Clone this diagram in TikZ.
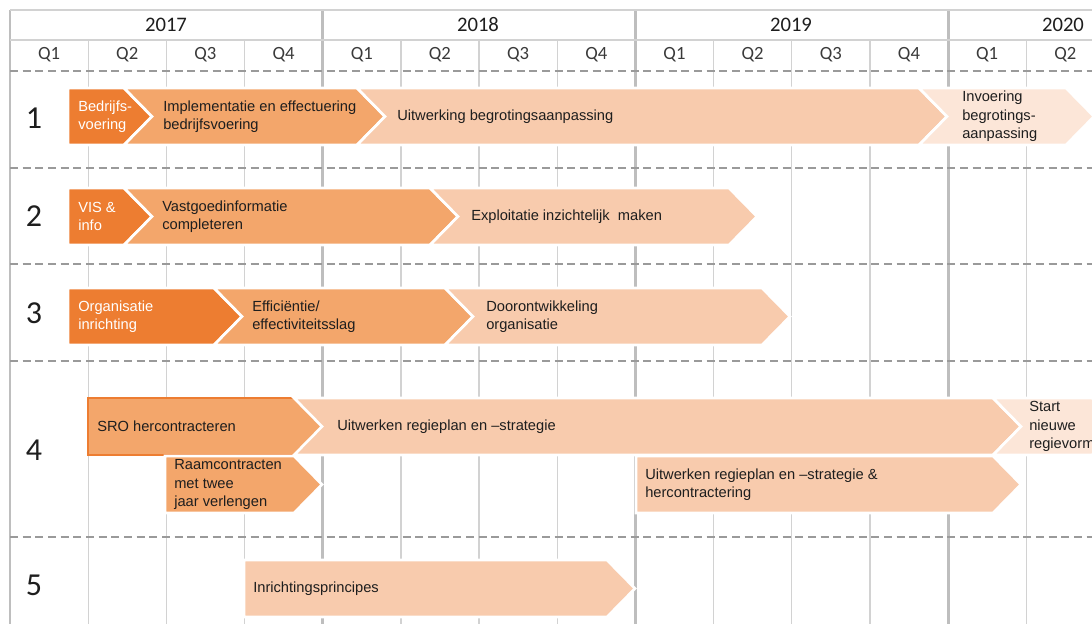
\documentclass[tikz,border=0pt]{standalone}
\usepackage{fontspec}
\setmainfont{Liberation Sans}
\newfontfamily\hdrfont{Carlito}
\usepackage{tikz}
\usepackage{xcolor}
\definecolor{rmdark}{HTML}{ED7D31}
\definecolor{rmmid}{HTML}{F3A66B}
\definecolor{rmlight}{HTML}{F8CBAD}
\definecolor{rmpale}{HTML}{FCE6D8}
\definecolor{rmgrid}{HTML}{D2D2D2}
\definecolor{rmyear}{HTML}{BEBEBE}
\definecolor{rmdash}{HTML}{9A9A9A}
\definecolor{rmtext}{HTML}{1E1E1E}
\definecolor{rmhead}{HTML}{3A3A3A}
\tikzset{
  phasedark/.style={fill=rmdark, draw=white, line width=2pt, line join=miter},
  phasemid/.style={fill=rmmid, draw=white, line width=2pt, line join=miter},
  phasesro/.style={fill=rmmid, draw=rmdark, line width=1.2pt, line join=miter},
  phaselight/.style={fill=rmlight, draw=white, line width=2pt, line join=miter},
  phasepale/.style={fill=rmpale, draw=white, line width=2pt, line join=miter},
  lbl/.style={anchor=west, align=left, inner sep=0pt, text=rmtext, font=\fontsize{11}{13.9}\selectfont},
  lblwhite/.style={lbl, text=white},
  qtxt/.style={text=rmhead, font=\hdrfont\fontsize{14}{16}\selectfont},
  yeartxt/.style={text=rmtext, font=\hdrfont\fontsize{15.5}{18}\selectfont},
  rowtxt/.style={text=rmtext, font=\hdrfont\fontsize{24}{28}\selectfont},
  qline/.style={draw=rmgrid, line width=1pt},
  yearline/.style={draw=rmyear, line width=2.2pt},
  hdrline/.style={draw=rmgrid, line width=1pt},
  rowsep/.style={draw=rmdash, line width=1.4pt, dash pattern=on 6pt off 3.5pt}
}
% chevron bar: [notch depth]{style}{x start}{x of tip}{y top}
\newcommand{\phase}[5][28]{%
  \path[#2] (#3,#5-1) -- (#4-28,#5-1) -- (#4,#5+27.5) -- (#4-28,#5+56)
    -- (#3,#5+56) -- (#3+#1,#5+27.5) -- cycle;}

\begin{document}
\begin{tikzpicture}[x=0.75pt, y=-0.75pt]
  \clip (0,0) rectangle (1092,624);
  \fill[white] (0,0) rectangle (1092,624);

  % grid
  \foreach \i in {1,2,3,5,6,7,9,10,11,13}
    \draw[qline] (10+78.17*\i,40) -- (10+78.17*\i,624);
  \foreach \i in {0,4,8,12}
    \draw[yearline] (10+78.17*\i,10) -- (10+78.17*\i,624);
  \draw[hdrline] (10,10) -- (1092,10);
  \draw[hdrline] (10,40) -- (1092,40);
  \foreach \y in {71,168,264,361,537}
    \draw[rowsep] (10,\y) -- (1092,\y);

  % header
  \node[yeartxt] (y2017) at (166,25) {2017};
  \node[yeartxt] (y2018) at (478,25) {2018};
  \node[yeartxt] (y2019) at (791,25) {2019};
  \node[yeartxt] (y2020) at (1063,25) {2020};
  \foreach \i in {0,...,13} {
    \pgfmathtruncatemacro\q{mod(\i,4)+1}
    \node[qtxt] (q\i) at (49.08+78.17*\i,55) {Q\q};
  }

  % row numbers
  \node[rowtxt] (r1) at (34,118) {1};
  \node[rowtxt] (r2) at (34,216) {2};
  \node[rowtxt] (r3) at (34,313) {3};
  \node[rowtxt] (r4) at (34,450) {4};
  \node[rowtxt] (r5) at (34,585) {5};

  % row 1
  \phase[0]{phasedark}{68}{152}{89}
  \phase{phasemid}{124}{385}{89}
  \phase{phaselight}{357}{947}{89}
  \phase{phasepale}{919}{1094}{89}
  \node[lblwhite] (bedrijfs) at (78,116.5) {Bedrijfs-\\voering};
  \node[lbl] (implement) at (163,116.5) {Implementatie en effectuering\\bedrijfsvoering};
  \node[lbl] (uitwerking) at (397,116.5) {Uitwerking begrotingsaanpassing};
  \node[lbl] (invoering) at (962,116.5) {Invoering\\begrotings-\\aanpassing};

  % row 2
  \phase[0]{phasedark}{68}{152}{189}
  \phase{phasemid}{124}{458}{189}
  \phase{phaselight}{430}{757}{189}
  \node[lblwhite] (vis) at (78,216.5) {VIS \&\\info};
  \node[lbl] (vastgoed) at (162,216.5) {Vastgoedinformatie\\completeren};
  \node[lbl] (exploitatie) at (471,216.5) {Exploitatie inzichtelijk\hspace{3pt} maken};

  % row 3
  \phase[0]{phasedark}{68}{242}{289}
  \phase{phasemid}{214}{473}{289}
  \phase{phaselight}{445}{790}{289}
  \node[lblwhite] (organisatie) at (78,316.5) {Organisatie\\inrichting};
  \node[lbl] (efficientie) at (252,316.5) {Efficiëntie/\\effectiviteitsslag};
  \node[lbl] (doorontw) at (486,316.5) {Doorontwikkeling\\organisatie};

  % row 4
  \phase[0]{phasesro}{88}{322}{399}
  \phase{phaselight}{294}{1021}{399}
  \phase{phasepale}{993}{1120}{399}
  \phase[0]{phasemid}{165}{322}{457}
  \phase[0]{phaselight}{636}{1021}{457}
  \node[lbl] (sro) at (97,426.5) {SRO hercontracteren};
  \node[lbl] (regieplan) at (337,426.5) {Uitwerken regieplan en –strategie};
  \node[lbl] (startregie) at (1029,426.5) {Start\\nieuwe\\regievorm};
  \node[lbl] (raam) at (174,484.5) {Raamcontracten\\met twee\\jaar verlengen};
  \node[lbl] (hercontr) at (645,484.5) {Uitwerken regieplan en –strategie \&\\hercontractering};

  % row 5
  \phase[0]{phaselight}{244}{635}{561}
  \node[lbl] (inrichting) at (253,588.5) {Inrichtingsprincipes};
\end{tikzpicture}
\end{document}
